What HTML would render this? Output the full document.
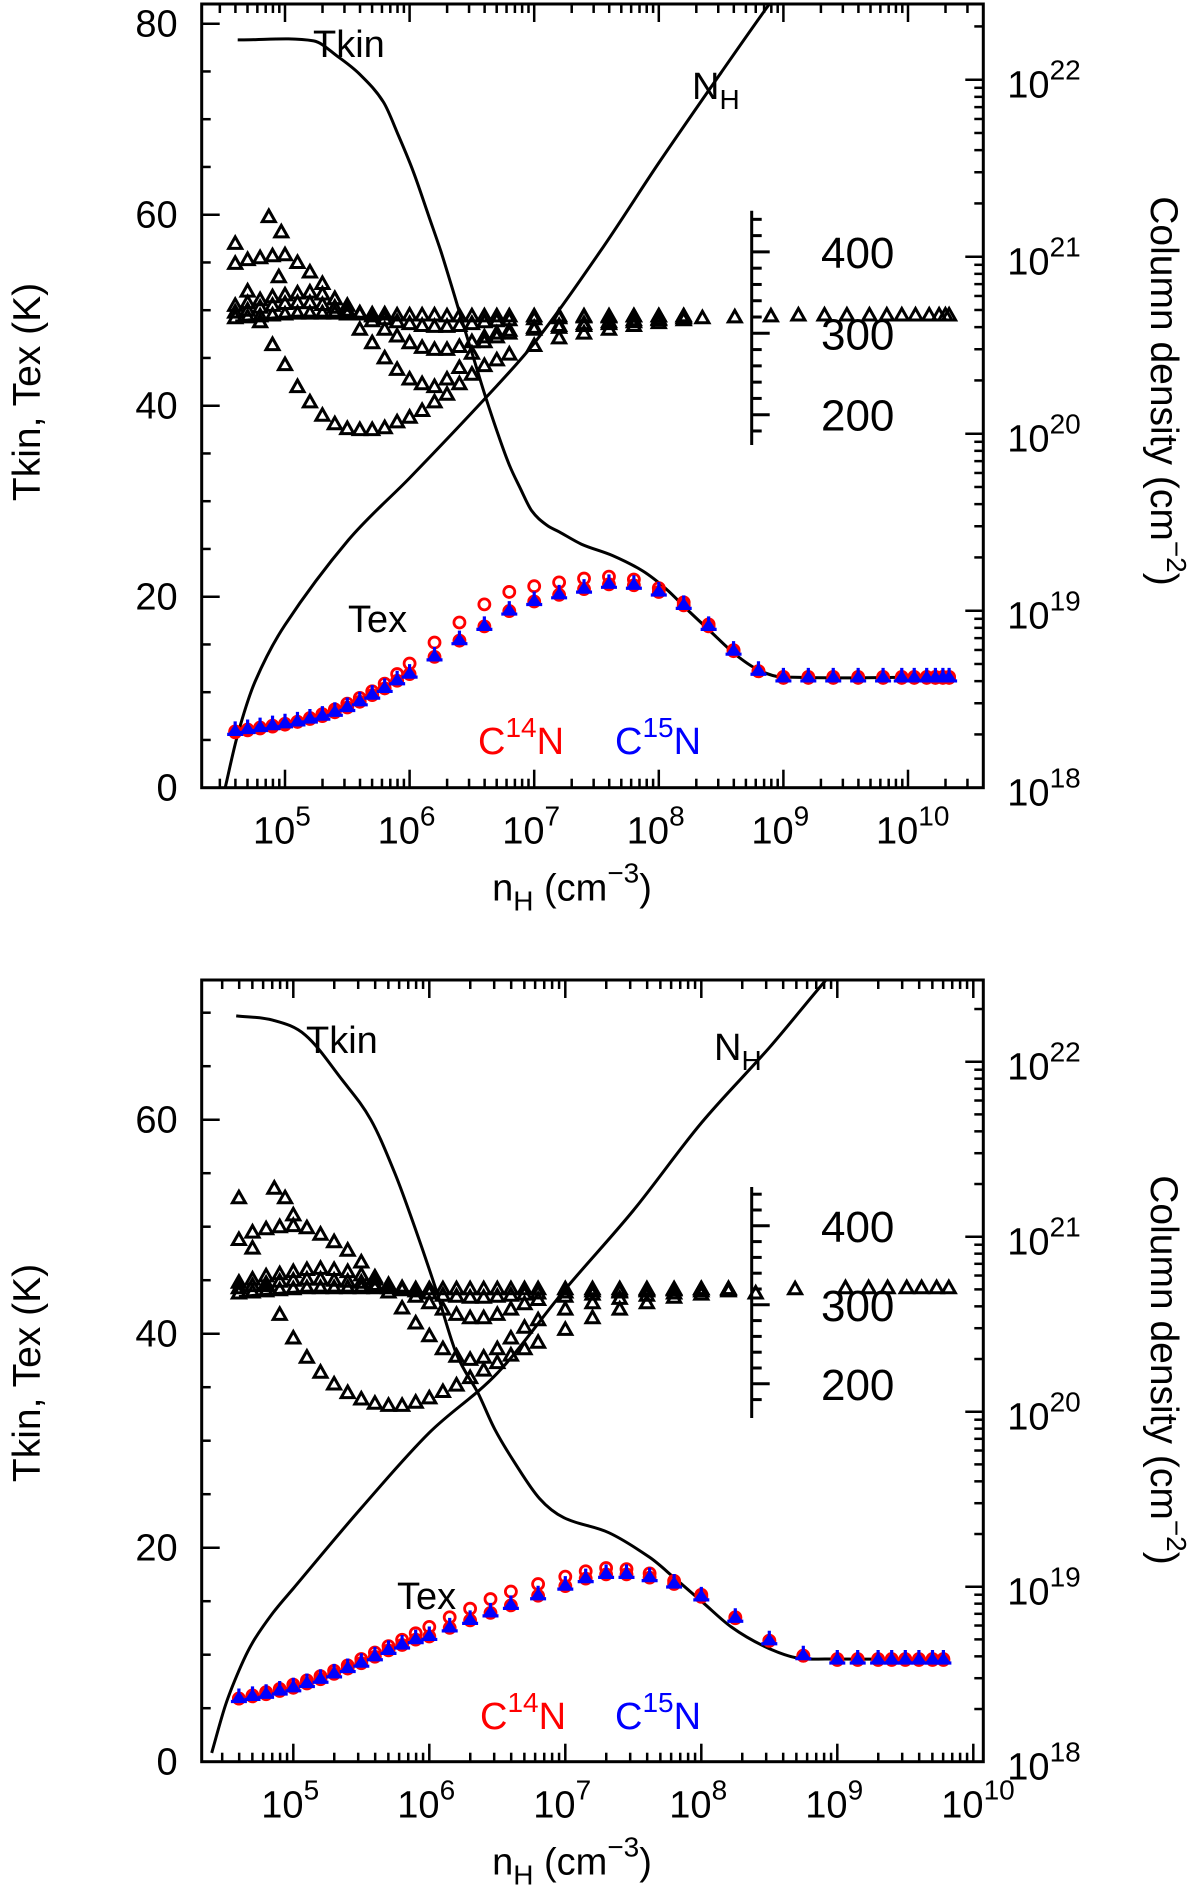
<!DOCTYPE html>
<html><head><meta charset="utf-8"><title>Tkin Tex column density vs nH</title>
<style>
html,body{margin:0;padding:0;background:#fff;}
svg{display:block;font-family:"Liberation Sans",sans-serif;}
</style></head>
<body>
<svg id="fig" xmlns="http://www.w3.org/2000/svg" width="1200" height="1891" viewBox="0 0 1200 1891"></svg>
<script>
// ===== Top panel data =====
const topTkinLogn = [4.62,5.23,5.42,5.60,5.79,5.91,6.03,6.15,6.25,6.34,6.43,6.52,6.61,6.71,6.80,6.89,6.98,7.10,7.20,7.38,7.63,7.87,8.06,8.24,8.42,8.61,8.79,8.98,10.36];
const topTkinT = [78.3,78.2,76.6,74.7,71.8,68.3,64.5,60.0,56.2,52.4,48.5,44.7,40.9,37.0,33.8,31.3,29.0,27.5,26.8,25.5,24.3,22.7,20.8,18.5,16.3,14.0,12.4,11.6,11.6];
const topNHLogn = [4.52,4.62,4.76,5.0,5.51,6.0,6.62,7.01,7.53,8.0,8.5,8.88,9.1];
const topNHLogN = [18.0,18.3,18.6,18.92,19.40,19.75,20.21,20.52,21.03,21.53,22.04,22.42,22.62];
const topTexLogn = [4.6,4.7,4.8,4.9,5.0,5.1,5.2,5.3,5.4,5.5,5.6,5.7,5.8,5.9,6.0,6.2,6.4,6.6,6.8,7.0,7.2,7.4,7.6,7.8,8.0,8.2,8.4,8.6,8.8,9.0,9.2,9.4,9.6,9.8,9.95,10.05,10.15,10.22,10.28,10.33];
const topTexC14 = [5.8,6.0,6.2,6.4,6.6,6.9,7.3,7.7,8.2,8.8,9.4,10.1,10.9,11.9,13.0,15.2,17.3,19.2,20.5,21.1,21.5,21.9,22.1,21.8,20.9,19.4,17.1,14.4,12.2,11.6,11.6,11.6,11.6,11.6,11.6,11.6,11.6,11.6,11.6,11.6];
const topTexC15 = [6.0,6.2,6.4,6.6,6.8,7.0,7.3,7.6,8.0,8.5,9.1,9.8,10.5,11.3,12.0,13.8,15.5,17.0,18.6,19.6,20.3,20.9,21.4,21.3,20.6,19.2,17.0,14.4,12.3,11.6,11.6,11.6,11.6,11.6,11.6,11.6,11.6,11.6,11.6,11.6];
const topTriLogn = [4.6,4.7,4.8,4.9,5.0,5.1,5.2,5.3,5.4,5.5,5.6,5.7,5.8,5.9,6.0,6.1,6.2,6.3,6.4,6.5,6.6,6.7,6.8,7.0,7.2,7.4,7.6,7.8,8.0,8.2];
const topTri1 = [57.0,52.0,48.8,46.4,44.3,42.0,40.4,39.0,38.1,37.6,37.5,37.5,37.7,38.3,38.8,39.5,40.4,41.2,42.3,43.3,44.2,44.8,45.4,46.3,47.1,47.6,48.0,48.4,48.7,49.0];
const topTri2 = [54.9,55.3,55.5,55.7,55.8,55.0,54.0,52.8,51.2,49.6,48.0,46.6,45.0,43.8,42.8,42.3,42.0,42.8,44.0,45.5,46.7,47.2,47.6,48.0,48.2,48.4,48.6,48.8,49.0,49.2];
const topTri3 = [50.5,50.8,51.1,51.4,51.6,51.8,51.9,51.7,51.2,50.5,49.7,48.9,48.0,47.3,46.6,46.1,45.9,45.9,46.2,46.7,47.2,47.6,47.9,48.2,48.4,48.6,48.8,49.0,49.1,49.2];
const topTri4 = [49.8,50.0,50.3,50.5,50.7,50.8,50.8,50.6,50.3,50.0,49.7,49.4,49.1,48.8,48.6,48.4,48.3,48.3,48.4,48.6,48.8,48.9,49.0,49.1,49.2,49.3,49.3,49.4,49.4,49.4];
const topTri5 = [49.2,49.3,49.4,49.5,49.6,49.7,49.7,49.7,49.7,49.7,49.6,49.6,49.6,49.5,49.5,49.5,49.5,49.4,49.4,49.4,49.4,49.4,49.4,49.4,49.4,49.4,49.4,49.4,49.4,49.4];
const topPlateauLogn = [8.35,8.61,8.90,9.12,9.33,9.51,9.69,9.83,9.95,10.06,10.17,10.25,10.30,10.33];
const topPlateauT = [49.2,49.3,49.4,49.5,49.5,49.5,49.5,49.5,49.5,49.5,49.5,49.5,49.5,49.5];
const topOutLogn = [4.87,4.97,4.95];
const topOutT = [59.8,58.2,53.5];

// ===== Bottom panel data =====
const botTkinLogn = [4.58,4.85,5.09,5.36,5.57,5.75,5.9,6.05,6.2,6.36,6.48,6.63,6.81,6.99,7.32,7.62,7.8,8.01,8.22,8.46,8.7,8.92,9.82];
const botTkinT = [69.7,69.3,67.9,63.7,60.0,54.9,49.7,44.1,38.1,34.4,31.1,27.9,24.6,22.8,21.4,19.1,17.2,14.9,12.6,10.8,9.7,9.6,9.6];
const botNHLogn = [4.40,4.5,4.6,4.7,4.85,5.0,5.5,6.0,6.5,7.0,7.5,8.0,8.5,8.92,9.1];
const botNHLogN = [18.05,18.32,18.52,18.68,18.85,18.99,19.45,19.88,20.22,20.70,21.15,21.65,22.08,22.47,22.62];
const botTexLogn = [4.6,4.7,4.8,4.9,5.0,5.1,5.2,5.3,5.4,5.5,5.6,5.7,5.8,5.9,6.0,6.15,6.3,6.45,6.6,6.8,7.0,7.15,7.3,7.45,7.62,7.8,8.0,8.25,8.5,8.75,9.0,9.15,9.3,9.4,9.5,9.6,9.7,9.78];
const botTexC14 = [5.9,6.2,6.5,6.8,7.2,7.6,8.0,8.5,9.0,9.6,10.2,10.8,11.4,12.0,12.6,13.5,14.3,15.2,15.9,16.6,17.3,17.8,18.1,18.0,17.6,16.9,15.6,13.5,11.3,9.9,9.6,9.6,9.6,9.6,9.6,9.6,9.6,9.6];
const botTexC15 = [6.0,6.2,6.4,6.7,7.0,7.4,7.8,8.3,8.8,9.3,9.9,10.5,11.0,11.5,11.8,12.6,13.3,14.0,14.7,15.6,16.5,17.2,17.6,17.6,17.3,16.7,15.5,13.5,11.4,10.0,9.6,9.6,9.6,9.6,9.6,9.6,9.6,9.6];
const botTriLogn = [4.6,4.7,4.8,4.9,5.0,5.1,5.2,5.3,5.4,5.5,5.6,5.7,5.8,5.9,6.0,6.1,6.2,6.3,6.4,6.5,6.6,6.7,6.8,7.0,7.2,7.4,7.6,7.8,8.0,8.2];
const botTri1 = [52.7,48.0,44.5,41.8,39.6,37.8,36.4,35.3,34.5,33.9,33.5,33.3,33.3,33.6,34.0,34.6,35.2,35.9,36.6,37.3,38.0,38.6,39.2,40.4,41.5,42.3,42.9,43.4,43.7,44.0];
const botTri2 = [48.8,49.5,49.8,50.0,50.1,49.9,49.3,48.6,47.8,46.7,45.3,43.9,42.4,41.0,39.8,38.6,37.9,37.6,37.8,38.6,39.6,40.6,41.3,42.3,42.9,43.3,43.6,43.8,44.0,44.1];
const botTri3 = [44.8,45.1,45.4,45.6,45.8,46.0,46.1,46.0,45.8,45.5,45.1,44.6,44.1,43.5,42.9,42.3,41.8,41.5,41.5,41.8,42.3,42.8,43.2,43.5,43.7,43.9,44.0,44.1,44.2,44.2];
const botTri4 = [44.3,44.5,44.7,44.9,45.0,45.1,45.1,45.0,44.9,44.8,44.6,44.4,44.2,44.0,43.8,43.6,43.5,43.4,43.4,43.5,43.6,43.7,43.8,43.9,44.0,44.0,44.1,44.1,44.2,44.2];
const botTri5 = [43.8,43.9,44.0,44.1,44.2,44.3,44.3,44.3,44.3,44.3,44.3,44.3,44.3,44.2,44.2,44.2,44.2,44.2,44.2,44.2,44.2,44.2,44.2,44.2,44.2,44.2,44.2,44.2,44.2,44.2];
const botPlateauLogn = [8.4,8.69,9.06,9.23,9.37,9.51,9.62,9.73,9.82];
const botPlateauT = [43.8,44.2,44.3,44.3,44.3,44.3,44.3,44.3,44.3];
const botOutLogn = [4.86,4.94,5.0];
const botOutT = [53.6,52.7,51.1];

// tick label arrays
const tempTicks = [0,20,40,60,80];
const insetTicks = [200,300,400];
const colDecades = [18,19,20,21,22];
const densDecades = [5,6,7,8,9,10];

const NS = "http://www.w3.org/2000/svg";
const svg = document.getElementById('fig');
function mk(tag, attrs, parent){ const e=document.createElementNS(NS,tag); for(const k in attrs) e.setAttribute(k,attrs[k]); (parent||svg).appendChild(e); return e; }

function smoothPath(pts){
  const n=pts.length, m=[];
  for(let i=0;i<n;i++){
    const a=pts[Math.max(0,i-1)], b=pts[Math.min(n-1,i+1)];
    m.push((b[1]-a[1])/(b[0]-a[0]));
  }
  let d = "M"+pts[0][0].toFixed(1)+","+pts[0][1].toFixed(1);
  for(let i=0;i<n-1;i++){
    const p1=pts[i], p2=pts[i+1], dx=(p2[0]-p1[0])/3;
    d += " C"+(p1[0]+dx).toFixed(1)+","+(p1[1]+m[i]*dx).toFixed(1)+" "+(p2[0]-dx).toFixed(1)+","+(p2[1]-m[i+1]*dx).toFixed(1)+" "+p2[0].toFixed(1)+","+p2[1].toFixed(1);
  }
  return d;
}

function drawPanel(P){
  const g = mk('g',{});
  
  
  const xS = v => P.x0 + (v-5)*P.dec;
  const yT = v => P.yb - v*P.ky;
  const yN = v => P.yb - (v-18)*P.kn;
  const yI = v => P.iy300 - (v-300)*P.ki;
  const clipId = 'clip'+P.name;
  const defs = mk('defs',{},g);
  const cp = mk('clipPath',{id:clipId},defs);
  mk('rect',{x:P.L,y:P.T,width:P.R-P.L,height:P.yb-P.T},cp);

  const fr = mk('rect',{x:P.L,y:P.T,width:P.R-P.L,height:P.yb-P.T,fill:'none',stroke:'#000','stroke-width':3},g);
  
  

  const xt = mk('g',{stroke:'#000','stroke-width':2.5},g);
  
  
  for(let d=4; d<=10; d++){
    for(let m=1;m<=9;m++){
      const lv = d+Math.log10(m); const x = xS(lv);
      if(x<P.L+2||x>P.R-2) continue;
      const len = m===1?18:9;
      mk('line',{x1:x,y1:P.yb,x2:x,y2:P.yb-len},xt);
      mk('line',{x1:x,y1:P.T,x2:x,y2:P.T+len},xt);
    }
  }
  const lt = mk('g',{stroke:'#000','stroke-width':2.5},g);
  
  
  for(let v=0; v<=90; v+=5){
    const y=yT(v); if(y<P.T+2) continue;
    mk('line',{x1:P.L,y1:y,x2:P.L+(v%20===0?18:9),y2:y},lt);
  }
  const rt = mk('g',{stroke:'#000','stroke-width':2.5},g);
  
  
  for(let d=17; d<=22; d++){
    for(let m=1;m<=9;m++){
      const y=yN(d+Math.log10(m)); if(y<P.T+2||y>P.yb-1) continue;
      mk('line',{x1:P.R,y1:y,x2:P.R-(m===1?18:9),y2:y},rt);
    }
  }
  tempTicks.forEach(v=>{
    const y=yT(v); if(y<P.T-5) return;
    const t=mk('text',{x:P.L-24,y:y+13,'font-size':38,'text-anchor':'end'},g);
    t.textContent=v;
    
    
  });
  colDecades.forEach(v=>{
    const y=yN(v);
    const t=mk('text',{x:P.R+24,y:y+18,'font-size':38},g);
    
    
    t.appendChild(document.createTextNode('10'));
    const s=mk('tspan',{dy:-18,'font-size':28},t); s.textContent=v;
  });
  densDecades.forEach(v=>{
    const x=xS(v); if(x>P.R+20) return;
    const t=mk('text',{x:x-32,y:P.yb+56,'font-size':38},g);
    
    
    t.appendChild(document.createTextNode('10'));
    const s=mk('tspan',{dy:-18,'font-size':28},t); s.textContent=v;
  });
  const xtit=mk('text',{x:P.xTitleX,y:P.yb+113,'font-size':38,'text-anchor':'middle'},g);
  
  
  xtit.appendChild(document.createTextNode('n'));
  let s1=mk('tspan',{dy:10,'font-size':28},xtit); s1.textContent='H';
  let s2=mk('tspan',{dy:-10},xtit); s2.textContent=' (cm';
  let s3=mk('tspan',{dy:-18,'font-size':28},xtit); s3.textContent='\u22123';
  let s4=mk('tspan',{dy:18},xtit); s4.textContent=')';

  const ytit=mk('text',{x:0,y:0,'font-size':39,'text-anchor':'middle',transform:'translate(40,'+P.lTitleY+') rotate(-90)'},g);
  
  
  ytit.textContent='Tkin, Tex (K)';

  const rtit=mk('text',{x:0,y:0,'font-size':39,'text-anchor':'middle',transform:'translate(1151,'+P.rTitleY+') rotate(90)'},g);
  
  
  rtit.appendChild(document.createTextNode('Column density (cm'));
  let r1=mk('tspan',{dy:-16,'font-size':28},rtit); r1.textContent='\u22122';
  let r2=mk('tspan',{dy:16},rtit); r2.textContent=')';

  const ia=mk('g',{stroke:'#000','stroke-width':3},g);
  
  
  mk('line',{x1:P.ix,y1:P.iTop,x2:P.ix,y2:P.iBot},ia);
  for(let v=160; v<=460; v+=20){
    const y=yI(v); if(y<P.iTop+3||y>P.iBot-3) continue;
    mk('line',{x1:P.ix,y1:y,x2:P.ix+(v%100===0?18:10),y2:y},ia);
  }
  insetTicks.forEach(v=>{
    const t=mk('text',{x:P.ix+106,y:yI(v)+16,'font-size':44,'text-anchor':'middle'},g);
    t.textContent=v;
    
    
  });

  const cg = mk('g',{'clip-path':'url(#'+clipId+')'},g);
  const tk = mk('path',{d:smoothPath(P.tkLogn.map((v,i)=>[xS(v),yT(P.tkT[i])])),fill:'none',stroke:'#000','stroke-width':3},cg);
  
  
  const nh = mk('path',{d:smoothPath(P.nhLogn.map((v,i)=>[xS(v),yN(P.nhN[i])])),fill:'none',stroke:'#000','stroke-width':3},cg);
  
  
  const tl = mk('path',{d:smoothPath(P.triLogn.slice(0,14).map((v,i)=>[xS(v),yT(P.tri[4][i]-0.3)])),fill:'none',stroke:'#000','stroke-width':2.5},cg);
  
  

  const tg = mk('g',{fill:'none',stroke:'#000','stroke-width':3,'stroke-linejoin':'miter'},g);
  
  
  function triAt(x,y,parent){ return mk('path',{d:`M${(x-6.5).toFixed(1)},${(y+5).toFixed(1)} L${(x+6.5).toFixed(1)},${(y+5).toFixed(1)} L${x.toFixed(1)},${(y-6.5).toFixed(1)} Z`},parent); }
  P.tri.forEach((ser,si)=>{
    ser.forEach((v,i)=>{
      const m=triAt(xS(P.triLogn[i]),yT(v),tg);
      
      
    });
  });
  P.plLogn.forEach((v,i)=>{
    const m=triAt(xS(v),yT(P.plT[i]),tg);
    
    
  });
  P.outLogn.forEach((v,i)=>{
    const m=triAt(xS(v),yT(P.outT[i]),tg);
    
    
  });

  const rg = mk('g',{fill:'none',stroke:'#ff0000','stroke-width':2.8},g);
  
  
  P.texLogn.forEach((v,i)=>{
    const c=mk('circle',{cx:xS(v),cy:yT(P.c14[i]),r:5.5},rg);
    
    
    const c2=mk('circle',{cx:xS(v),cy:yT(P.c15[i])+1,r:5.5,fill:'#ff0000'},rg);
    
    
  });
  const bg = mk('g',{fill:'#0000ff',stroke:'#0000ff','stroke-width':3.2},g);
  
  
  P.texLogn.forEach((v,i)=>{
    const x=xS(v), y=yT(P.c15[i]);
    const m=mk('path',{d:`M${x},${y-9} L${x},${y} M${x-8},${y+4} L${x+8},${y+4} M${x-4},${y+2} L${x},${y-4} L${x+4},${y+2} Z`},bg);
    
    
  });

  function lab(txt,x,y,name,color){ const t=mk('text',{x:x,y:y,'font-size':38,fill:color||'#000'},g);   if(txt) t.textContent=txt; return t; }
  lab('Tkin',P.tkinLab[0],P.tkinLab[1],'tkin-label');
  const nl=lab('',P.nhLab[0],P.nhLab[1],'nh-label');
  nl.appendChild(document.createTextNode('N'));
  let n1=mk('tspan',{dy:10,'font-size':28},nl); n1.textContent='H';
  lab('Tex',P.texLab[0],P.texLab[1],'tex-label');
  const l14=lab('',P.c14Lab[0],P.c14Lab[1],'c14n-legend-label','#ff0000');
  l14.appendChild(document.createTextNode('C'));
  let a=mk('tspan',{dy:-17,'font-size':28},l14); a.textContent='14';
  let b=mk('tspan',{dy:17},l14); b.textContent='N';
  const l15=lab('',P.c15Lab[0],P.c15Lab[1],'c15n-legend-label','#0000ff');
  l15.appendChild(document.createTextNode('C'));
  let c=mk('tspan',{dy:-17,'font-size':28},l15); c.textContent='15';
  let d=mk('tspan',{dy:17},l15); d.textContent='N';
}

drawPanel({name:'top-panel', L:201.7, R:983.3, T:4, yb:787.7, x0:285, dec:124.6, ky:9.55, kn:177,
  ix:751.7, iTop:210.7, iBot:445, iy300:333.3, ki:0.814,
  tkLogn:topTkinLogn, tkT:topTkinT, nhLogn:topNHLogn, nhN:topNHLogN,
  texLogn:topTexLogn, c14:topTexC14, c15:topTexC15,
  triLogn:topTriLogn, tri:[topTri1,topTri2,topTri3,topTri4,topTri5],
  plLogn:topPlateauLogn, plT:topPlateauT, outLogn:topOutLogn, outT:topOutT,
  xTitleX:572, lTitleY:392, rTitleY:391,
  tkinLab:[313,57], nhLab:[692,99], texLab:[348,632], c14Lab:[478,754], c15Lab:[615,754]});

drawPanel({name:'bottom-panel', L:201.7, R:983.3, T:980, yb:1761.7, x0:293.3, dec:136, ky:10.7, kn:175,
  ix:751.7, iTop:1187, iBot:1418, iy300:1304.8, ki:0.79,
  tkLogn:botTkinLogn, tkT:botTkinT, nhLogn:botNHLogn, nhN:botNHLogN,
  texLogn:botTexLogn, c14:botTexC14, c15:botTexC15,
  triLogn:botTriLogn, tri:[botTri1,botTri2,botTri3,botTri4,botTri5],
  plLogn:botPlateauLogn, plT:botPlateauT, outLogn:botOutLogn, outT:botOutT,
  xTitleX:572, lTitleY:1373, rTitleY:1370,
  tkinLab:[306,1053], nhLab:[714,1060], texLab:[397,1609], c14Lab:[480,1729], c15Lab:[615,1729]});
</script>
</body></html>
